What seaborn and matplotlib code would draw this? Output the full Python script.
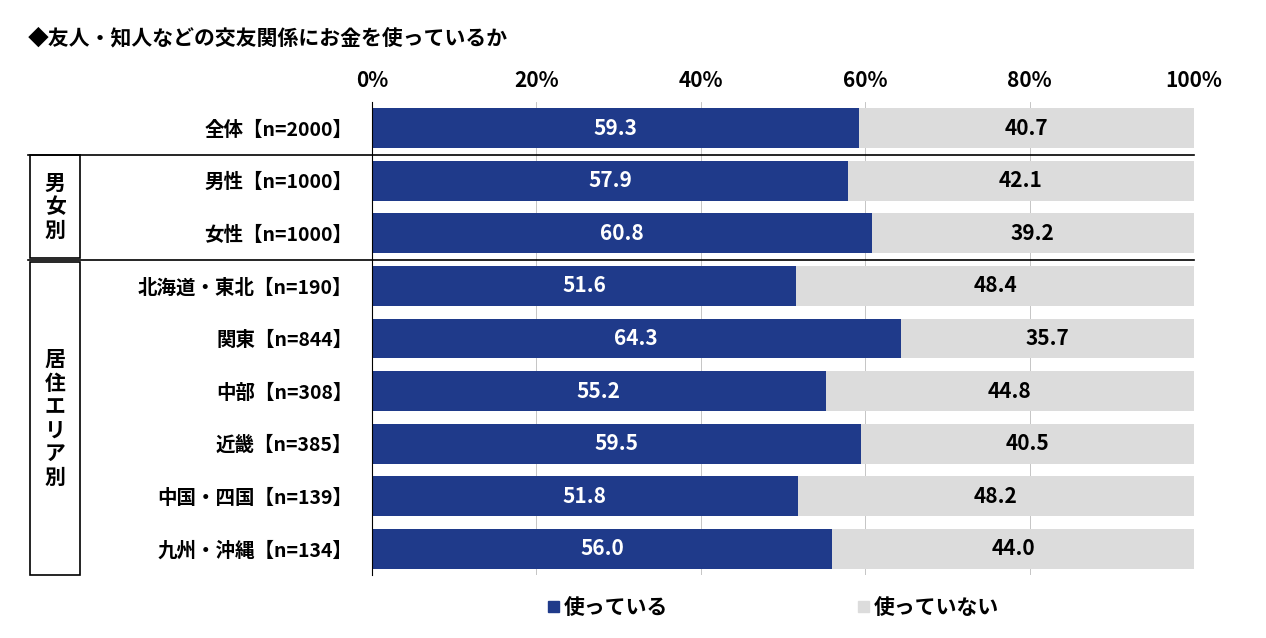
import matplotlib
matplotlib.use('Agg')
import matplotlib.pyplot as plt
import seaborn as sns
import pandas as pd
from matplotlib.patches import Rectangle
from matplotlib.lines import Line2D

plt.rcParams['font.family'] = 'Noto Sans CJK JP'
plt.rcParams['font.weight'] = 'bold'

categories = ['全体【n=2000】', '男性【n=1000】', '女性【n=1000】', '北海道・東北【n=190】',
              '関東【n=844】', '中部【n=308】', '近畿【n=385】', '中国・四国【n=139】', '九州・沖縄【n=134】']
used = [59.3, 57.9, 60.8, 51.6, 64.3, 55.2, 59.5, 51.8, 56.0]
not_used = [40.7, 42.1, 39.2, 48.4, 35.7, 44.8, 40.5, 48.2, 44.0]
ticks = [0, 20, 40, 60, 80, 100]

BLUE = '#1f3a8a'
GRAY = '#dcdcdc'

df = pd.DataFrame({'cat': categories, 'used': used, 'not_used': not_used})
df['total'] = df['used'] + df['not_used']

fig = plt.figure(figsize=(12.66, 6.38), dpi=100)
ax = fig.add_axes([372/1266, 1-575/638, 822/1266, 473/638])

sns.barplot(data=df, y='cat', x='total', color=GRAY, width=0.76, ax=ax, saturation=1)
sns.barplot(data=df, y='cat', x='used', color=BLUE, width=0.76, ax=ax, saturation=1)

for i, (u, n) in enumerate(zip(used, not_used)):
    ax.text(u / 2, i, f'{u:.1f}', color='white', ha='center', va='center', fontsize=15)
    ax.text(u + n / 2, i, f'{n:.1f}', color='black', ha='center', va='center', fontsize=15)

ax.set_xlim(0, 100)
ax.set_ylim(8.5, -0.5)
ax.xaxis.tick_top()
ax.set_xticks(ticks)
ax.set_xticklabels([f'{t}%' for t in ticks], fontsize=15)
ax.tick_params(axis='x', length=0, pad=8)
ax.tick_params(axis='y', length=0, pad=14, labelsize=14)
ax.set_xlabel('')
ax.set_ylabel('')
for t in ticks[1:-1]:
    ax.axvline(t, color='#bbbbbb', lw=0.6, zorder=0)
for s in ['top', 'right', 'bottom']:
    ax.spines[s].set_visible(False)
ax.spines['left'].set_color('black')

# separators and group boxes (figure pixel coords)
def px(x, y):
    return x / 1266, 1 - y / 638

for y in [155, 260]:
    x0, yy = px(28, y)
    x1, _ = px(1194, y)
    fig.add_artist(Line2D([x0, x1], [yy, yy], color='black', lw=1.2))
for (ytop, ybot, label) in [(155, 258, '男\n女\n別'), (262, 575, '居\n住\nエ\nリ\nア\n別')]:
    x0, y0 = px(30, ybot)
    fig.add_artist(Rectangle((x0, y0), 50/1266, (ybot-ytop)/638, fill=False, ec='black', lw=1.2))
    cx, cy = px(55, (ytop+ybot)/2)
    fig.text(cx, cy, label, ha='center', va='center', fontsize=15, linespacing=1.15)

fig.text(28/1266, 1-38/638, '◆友人・知人などの交友関係にお金を使っているか', fontsize=15, va='center')

# legend
for x, c, lab in [(548, BLUE, '使っている'), (858, GRAY, '使っていない')]:
    lx, ly = px(x, 612)
    fig.add_artist(Rectangle((lx, ly), 11/1266, 11/638, color=c))
    fig.text(lx + 16/1266, ly + 5/638, lab, fontsize=15, va='center')

fig.savefig('out.png', dpi=100)
